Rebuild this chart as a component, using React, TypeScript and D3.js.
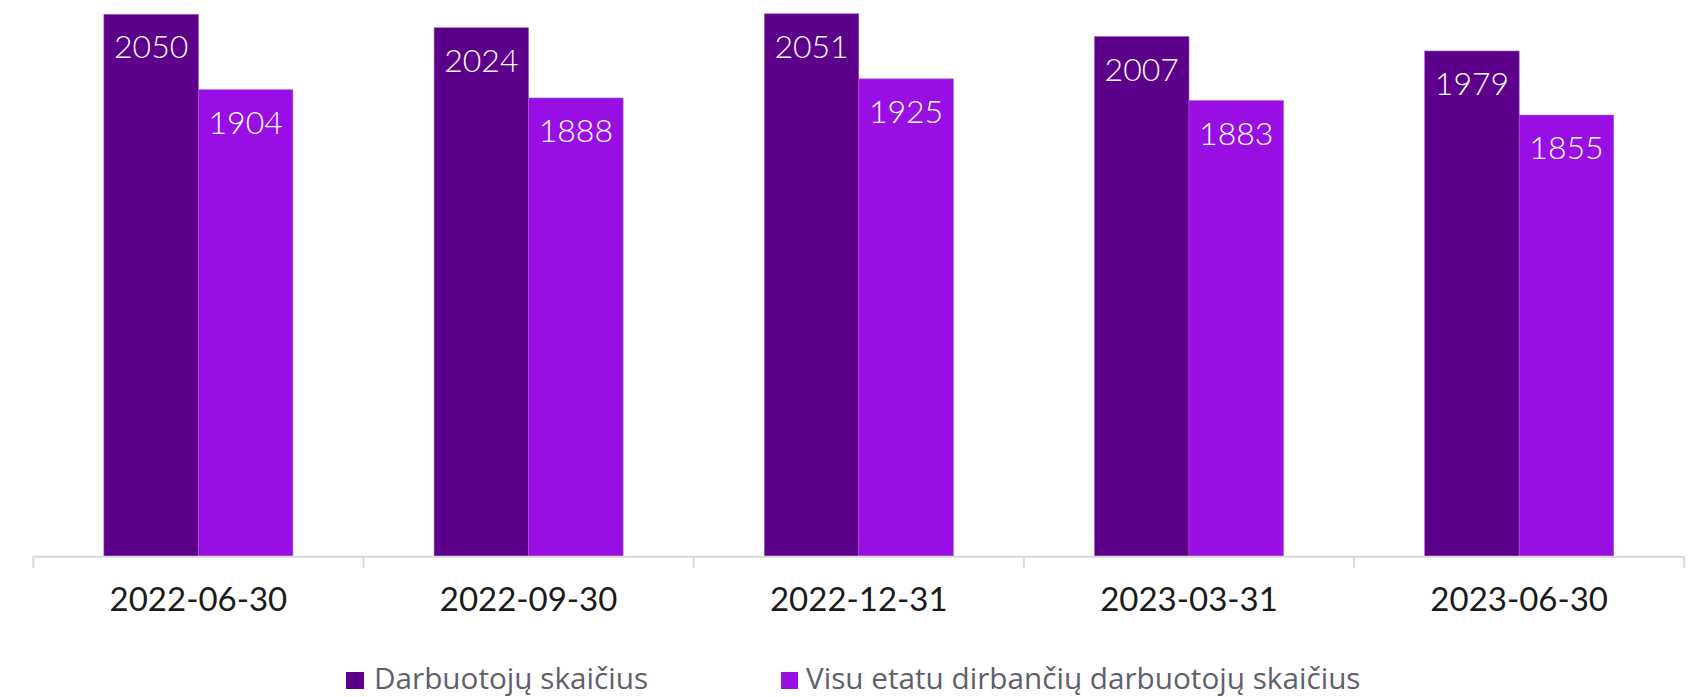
import React, { useEffect } from 'react';
import * as d3 from 'd3';

const categories = ['2022-06-30', '2022-09-30', '2022-12-31', '2023-03-31', '2023-06-30'];
const seriesNames = ['Darbuotojų skaičius', 'Visu etatu dirbančių darbuotojų skaičius'];
const employees = [2050, 2024, 2051, 2007, 1979];
const fullTime = [1904, 1888, 1925, 1883, 1855];
const colors = ['#5c008c', '#990fe3'];

const W = 1695;
const H = 697;
const baseY = 556.7;

const App = () => {
    useEffect(() => {
        document.body.style.margin = '0';
    }, []);

    const x = d3.scaleBand().domain(categories).range([33.3, 1684.3]);
    const inner = d3.scaleBand().domain(seriesNames).range([0, x.bandwidth()]).paddingOuter(0.747);
    // axis does not start at 0
    const y = d3.scaleLinear().domain([1000, 2050]).range([baseY, 14.3]);

    const rows = categories.map((c, i) => ({ cat: c, values: [employees[i], fullTime[i]] }));
    const ticks = [...categories.map(c => x(c)), x.range()[1]];

    return (
        <svg width={W} height={H} style={{ display: 'block' }}>
            {rows.map(r => (
                <g key={r.cat} transform={`translate(${x(r.cat)},0)`}>
                    {r.values.map((v, j) => (
                        <g key={j}>
                            <rect
                                x={inner(seriesNames[j])}
                                y={y(v)}
                                width={inner.bandwidth()}
                                height={baseY - y(v)}
                                fill={colors[j]}
                                stroke="#a45bd0"
                                strokeWidth={0.6}
                            />
                            <text
                                x={inner(seriesNames[j]) + inner.bandwidth() / 2}
                                y={y(v) + 44}
                                textAnchor="middle"
                                fill="#fff"
                                fontFamily="Lato"
                                fontWeight={300}
                                fontSize={32}
                            >
                                {v}
                            </text>
                        </g>
                    ))}
                    <text
                        x={x.bandwidth() / 2}
                        y={611}
                        textAnchor="middle"
                        fill="#1a1a1a"
                        fontFamily="Lato"
                        fontSize={33}
                    >
                        {r.cat}
                    </text>
                </g>
            ))}
            <line x1={x.range()[0]} x2={x.range()[1]} y1={baseY} y2={baseY} stroke="#d9d9d9" strokeWidth={2} />
            {ticks.map((t, i) => (
                <line key={i} x1={t} x2={t} y1={baseY} y2={baseY + 11} stroke="#d9d9d9" strokeWidth={2} />
            ))}
            <g fontFamily="Open Sans" fontSize={29.7} fill="#5f5f6b">
                <rect x={346} y={672} width={18} height={17} fill={colors[0]} />
                <text x={374} y={688.5}>{seriesNames[0]}</text>
                <rect x={781} y={672} width={17} height={17} fill={colors[1]} />
                <text x={806} y={688.5}>{seriesNames[1]}</text>
            </g>
        </svg>
    );
};

export default App;
